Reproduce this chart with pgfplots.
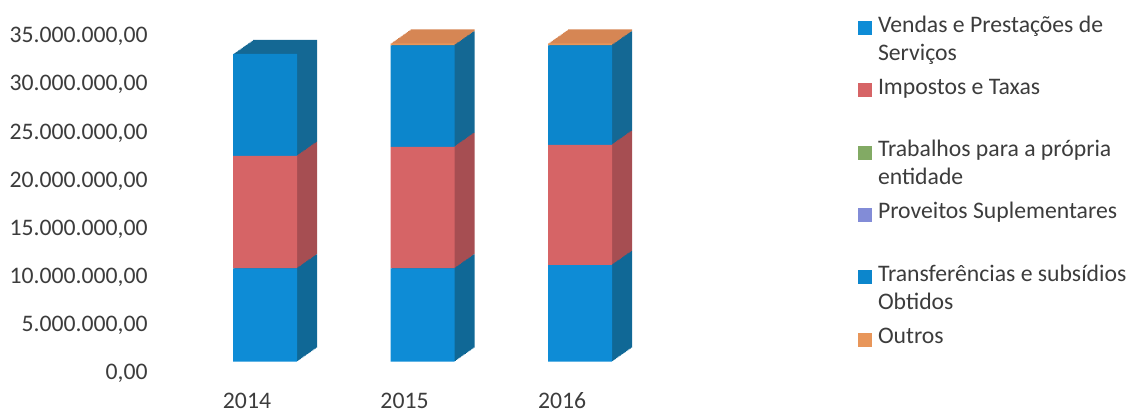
\documentclass[border=0pt]{standalone}
\usepackage{fontspec}
\setmainfont{Carlito}
\usepackage{pgfplots}
\usepackage{pgfplotstable}
\pgfplotsset{compat=1.18}
\definecolor{vendF}{RGB}{14,140,214}
\definecolor{vendS}{RGB}{16,104,150}
\definecolor{impF}{RGB}{214,100,102}
\definecolor{impS}{RGB}{166,78,82}
\definecolor{trabF}{RGB}{130,170,100}
\definecolor{trabS}{RGB}{100,130,80}
\definecolor{provF}{RGB}{130,140,215}
\definecolor{provS}{RGB}{100,110,170}
\definecolor{tranF}{RGB}{12,134,204}
\definecolor{tranS}{RGB}{20,104,148}
\definecolor{outF}{RGB}{232,150,90}
\definecolor{outS}{RGB}{214,134,84}
\definecolor{txt}{RGB}{60,60,60}

\pgfplotstableread{
idx vendas impostos trabalhos proveitos transf outros
0 9700000 11700000 0 0 10600000 0
1 9700000 12650000 0 0 10550000 200000
2 10050000 12500000 0 0 10350000 200000
}\datatable

\newcommand\legtxt[1]{\smash{\parbox[t]{135pt}{#1}}}
\newcommand\myfont{\fontsize{11.85}{14}\selectfont}

\pgfplotsset{
  base/.style={
    scale only axis, width=280pt, height=168.3pt,
    xmin=-0.5524, xmax=3.003, ymin=0, ymax=35000000,
    anchor=south west,
  },
  barsax/.style={base, hide axis, ybar stacked, bar width=32pt},
}

\begin{document}
\begin{tikzpicture}
% label axis
\begin{axis}[base, at={(80pt,20.35pt)},
  axis x line*=bottom, axis y line*=left,
  axis line style={draw=none}, major tick style={draw=none},
  xtick={0,1,2}, xticklabels={2014,2015,2016},
  ytick={0,5000000,10000000,15000000,20000000,25000000,30000000,35000000},
  scaled y ticks=false,
  tick label style={font=\myfont, text=txt},
  yticklabel style={/pgf/number format/.cd, fixed, fixed zerofill, precision=2,
    1000 sep={.}, use comma, assume math mode=true, /tikz/.cd, inner sep=0pt, xshift=-6pt},
  xticklabel style={anchor=base, inner sep=0pt, yshift=-17.6pt},
]
\addplot[draw=none] coordinates {(0,0)};
\end{axis}

% extrusion (side and top faces)
\foreach \k in {16,15,...,1}{
\begin{axis}[barsax, at={(89pt+10pt*\k/16,26.15pt+7pt*\k/16)}]
\addplot[fill=vendS, draw=none] table[x=idx,y=vendas]{\datatable};
\addplot[fill=impS, draw=none] table[x=idx,y=impostos]{\datatable};
\addplot[fill=trabS, draw=none] table[x=idx,y=trabalhos]{\datatable};
\addplot[fill=provS, draw=none] table[x=idx,y=proveitos]{\datatable};
\addplot[fill=tranS, draw=none] table[x=idx,y=transf]{\datatable};
\addplot[fill=outS, draw=none] table[x=idx,y=outros]{\datatable};
\end{axis}
}

% front faces + legend
\begin{axis}[barsax, at={(89pt,26.15pt)},
  legend style={at={(1.2143,1.0121)}, anchor=north west, draw=none, fill=none,
    inner sep=0pt, outer sep=0pt, row sep=24.15pt, column sep=3pt,
    nodes={inner sep=0pt, outer sep=0pt}, cells={anchor=base west}, font=\myfont, text=txt},
  legend image code/.code={\fill[#1,draw=none] (0pt,-1.5pt) rectangle (7pt,5.5pt);},
]
\addplot[fill=vendF, draw=none] table[x=idx,y=vendas]{\datatable};
\addlegendentry{\legtxt{Vendas e Prestações de\\Serviços}}
\addplot[fill=impF, draw=none] table[x=idx,y=impostos]{\datatable};
\addlegendentry{\legtxt{Impostos e Taxas}}
\addplot[fill=trabF, draw=none] table[x=idx,y=trabalhos]{\datatable};
\addlegendentry{\legtxt{Trabalhos para a própria\\entidade}}
\addplot[fill=provF, draw=none] table[x=idx,y=proveitos]{\datatable};
\addlegendentry{\legtxt{Proveitos Suplementares}}
\addplot[fill=tranF, draw=none] table[x=idx,y=transf]{\datatable};
\addlegendentry{\legtxt{Transferências e subsídios\\Obtidos}}
\addplot[fill=outF, draw=none] table[x=idx,y=outros]{\datatable};
\addlegendentry{\legtxt{Outros}}
\end{axis}
\pgfresetboundingbox
\path (0,0) rectangle (568pt,207pt);
\end{tikzpicture}
\end{document}
